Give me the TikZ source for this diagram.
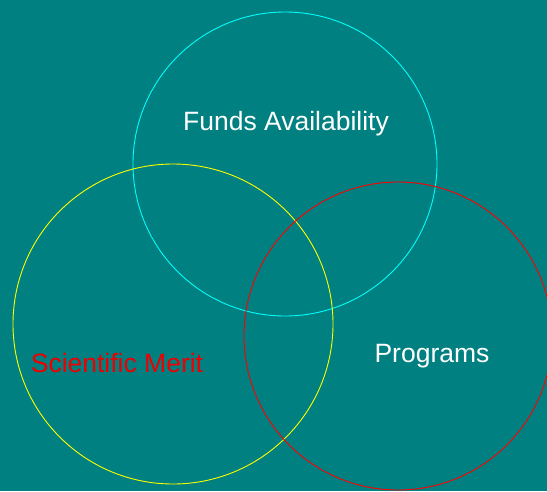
\documentclass[tikz,border=0pt]{standalone}
\usepackage{fontspec}
\setmainfont{Liberation Sans}
\definecolor{teal}{HTML}{008080}
\definecolor{cyanline}{HTML}{00FFFF}
\definecolor{yellowline}{HTML}{FFFF00}
\definecolor{redline}{HTML}{FF0000}
\definecolor{redtext}{HTML}{EE0000}

\begin{document}
\begin{tikzpicture}[x=1pt,y=-1pt,
  label/.style={font=\fontsize{26.5}{30}\selectfont, inner sep=0pt}]
\useasboundingbox (0,0) rectangle (547,491);
\fill[teal] (0,0) rectangle (547,491);
\begin{scope}
 \clip (0,0) rectangle (547,491);
 \draw[line width=0.9pt,cyanline](285,164) circle (152);
 \draw[line width=0.9pt,yellowline](173,324) circle (160);
 \draw[line width=0.9pt,redline](398,336) circle (154);
\end{scope}

 \node[label,white] at (286, 124)   (funds) {Funds Availability};
 \node[label,redtext] at (117, 363)   (merit) {Scientific Merit};
 \node[label,white] at (432, 356)   (progs) {Programs};
\end{tikzpicture}
\end{document}
